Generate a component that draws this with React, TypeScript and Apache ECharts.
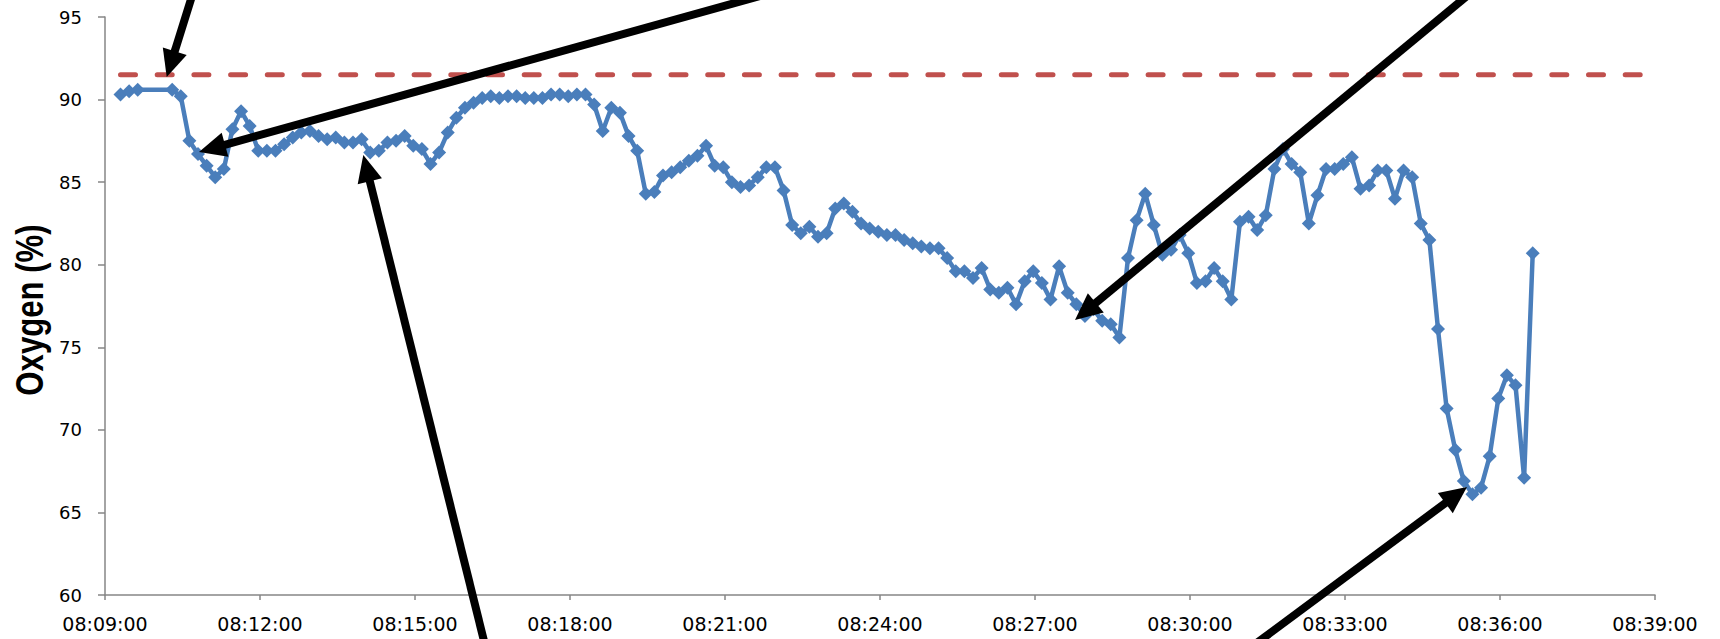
import React, { useEffect, useRef } from "react";
import * as echarts from "echarts";

// ---------- DATA ----------
const xAxisMin = "08:09:00";
const xAxisMax = "08:39:00";
const xTickLabels = [
  "08:09:00", "08:12:00", "08:15:00", "08:18:00", "08:21:00", "08:24:00",
  "08:27:00", "08:30:00", "08:33:00", "08:36:00", "08:39:00",
];
const yMin = 60;
const yMax = 95;
const yStep = 5;

// sampling clock: two recording segments, one reading every 10 s
const segmentStarts = ["08:09:18", "08:10:18"];
const segmentCounts = [3, 159];
const sampleStepSeconds = 10;

const oxygenValues = [
  90.3, 90.5, 90.6,
  90.6, 90.2, 87.5, 86.7, 86.0, 85.3, 85.8, 88.2, 89.3, 88.4,
  86.9, 86.9, 86.9, 87.3, 87.7, 88.0, 88.1, 87.8, 87.6, 87.7,
  87.4, 87.4, 87.6, 86.8, 86.9, 87.4, 87.5, 87.8, 87.2, 87.0,
  86.1, 86.8, 88.0, 88.9, 89.5, 89.8, 90.1, 90.2, 90.1, 90.2,
  90.2, 90.1, 90.1, 90.1, 90.3, 90.3, 90.2, 90.3, 90.3, 89.7,
  88.1, 89.5, 89.2, 87.8, 86.9, 84.3, 84.4, 85.4, 85.6, 85.9,
  86.3, 86.6, 87.2, 86.0, 85.9, 85.0, 84.7, 84.8, 85.3, 85.9,
  85.9, 84.5, 82.4, 81.9, 82.3, 81.7, 81.9, 83.4, 83.7, 83.2,
  82.5, 82.2, 82.0, 81.8, 81.8, 81.5, 81.3, 81.1, 81.0, 81.0,
  80.4, 79.6, 79.6, 79.2, 79.8, 78.5, 78.3, 78.6, 77.6, 79.0,
  79.6, 78.9, 77.9, 79.9, 78.3, 77.6, 76.9, 77.3, 76.6, 76.4,
  75.6, 80.4, 82.7, 84.3, 82.4, 80.6, 80.9, 81.8, 80.7, 78.9,
  79.0, 79.8, 79.0, 77.9, 82.6, 82.9, 82.1, 83.0, 85.8, 87.0,
  86.1, 85.6, 82.5, 84.2, 85.8, 85.8, 86.1, 86.5, 84.6, 84.8,
  85.7, 85.7, 84.0, 85.7, 85.3, 82.5, 81.5, 76.1, 71.3, 68.8,
  66.9, 66.1, 66.5, 68.4, 71.9, 73.3, 72.7, 67.1, 80.7,
];

const thresholdValue = 91.5;
const thresholdSpan = ["08:09:18", "08:39:00"];

const yAxisTitle = "Oxygen (%)";

// annotation arrows (pixel positions: tail -> tip)
const arrowTails = [[192, -4], [760, -4], [485, 645], [1467, -4], [1254, 645]];
const arrowTips = [[166.7, 77], [199, 152], [363.3, 155], [1075, 320], [1467, 487]];

// ---------- helpers ----------
const toSec = (s: string) => {
  const [h, m, sec] = s.split(":").map(Number);
  return h * 3600 + m * 60 + sec;
};

const buildTimes = () => {
  const out: number[] = [];
  segmentStarts.forEach((st, k) => {
    const t0 = toSec(st);
    for (let i = 0; i < segmentCounts[k]; i++) out.push(t0 + i * sampleStepSeconds);
  });
  return out;
};

const arrowGraphics = () => {
  const els: any[] = [];
  const headLen = 27;
  const headHalf = 12.5;
  arrowTails.forEach((tail, i) => {
    const tip = arrowTips[i];
    const dx = tip[0] - tail[0];
    const dy = tip[1] - tail[1];
    const len = Math.hypot(dx, dy);
    const ux = dx / len;
    const uy = dy / len;
    const nx = -uy;
    const ny = ux;
    const bx = tip[0] - ux * headLen;
    const by = tip[1] - uy * headLen;
    els.push({
      type: "line",
      z: 100,
      shape: { x1: tail[0], y1: tail[1], x2: bx + ux * 4, y2: by + uy * 4 },
      style: { stroke: "#000", lineWidth: 8 },
      silent: true,
    });
    els.push({
      type: "polygon",
      z: 100,
      shape: {
        points: [
          [tip[0], tip[1]],
          [bx + nx * headHalf, by + ny * headHalf],
          [bx - nx * headHalf, by - ny * headHalf],
        ],
      },
      style: { fill: "#000" },
      silent: true,
    });
  });
  return els;
};

export default function App() {
  const ref = useRef<HTMLDivElement>(null);

  useEffect(() => {
    if (!ref.current) return;
    const chart = echarts.init(ref.current, undefined, { renderer: "svg" });
    const times = buildTimes();
    const oxygenData = oxygenValues.map((v, i) => [times[i], v]);
    const thresholdData = thresholdSpan.map((t) => [toSec(t), thresholdValue]);
    const xMin = toSec(xAxisMin);
    const xMax = toSec(xAxisMax);
    const xInterval = (xMax - xMin) / (xTickLabels.length - 1);
    const axisColor = "#868686";

    chart.setOption({
      animation: false,
      backgroundColor: "#ffffff",
      grid: { left: 105, right: 65, top: 17, bottom: 44, containLabel: false },
      xAxis: {
        type: "value",
        min: xMin,
        max: xMax,
        interval: xInterval,
        splitLine: { show: false },
        axisLine: { show: true, lineStyle: { color: axisColor, width: 1.5 } },
        axisTick: { show: true, length: 5, lineStyle: { color: axisColor, width: 1.5 } },
        axisLabel: {
          showMinLabel: true,
          showMaxLabel: true,
          margin: 19,
          fontFamily: "DejaVu Sans",
          fontSize: 19,
          color: "#000",
          formatter: (v: number) => xTickLabels[Math.round((v - xMin) / xInterval)] ?? "",
        },
      },
      yAxis: {
        type: "value",
        min: yMin,
        max: yMax,
        interval: yStep,
        splitLine: { show: false },
        axisLine: { show: true, lineStyle: { color: axisColor, width: 1.5 } },
        axisTick: { show: true, length: 7, lineStyle: { color: axisColor, width: 1.5 } },
        axisLabel: {
          showMinLabel: true,
          showMaxLabel: true,
          margin: 23,
          fontFamily: "DejaVu Sans",
          fontSize: 18,
          color: "#000",
        },
      },
      series: [
        {
          name: "Threshold",
          type: "line",
          data: thresholdData,
          symbol: "none",
          silent: true,
          z: 2,
          lineStyle: { color: "#C0504D", width: 5, type: [15, 21.7], cap: "round" },
        },
        {
          name: "Oxygen",
          type: "line",
          data: oxygenData,
          symbol: "diamond",
          symbolSize: 14,
          z: 3,
          lineStyle: { color: "#4A7EBB", width: 4.5 },
          itemStyle: { color: "#4A7EBB" },
        },
      ],
      graphic: [
        {
          type: "text",
          x: 30,
          y: 310,
          rotation: Math.PI / 2,
          scaleX: 0.82,
          silent: true,
          style: {
            text: yAxisTitle,
            font: 'bold 38px "Liberation Sans", Arial, sans-serif',
            fill: "#000",
            align: "center",
            verticalAlign: "middle",
          },
        },
        ...arrowGraphics(),
      ],
    });

    return () => chart.dispose();
  }, []);

  return (
    <div
      ref={ref}
      style={{ position: "fixed", left: 0, top: 0, width: 1720, height: 639, background: "#fff" }}
    />
  );
}
